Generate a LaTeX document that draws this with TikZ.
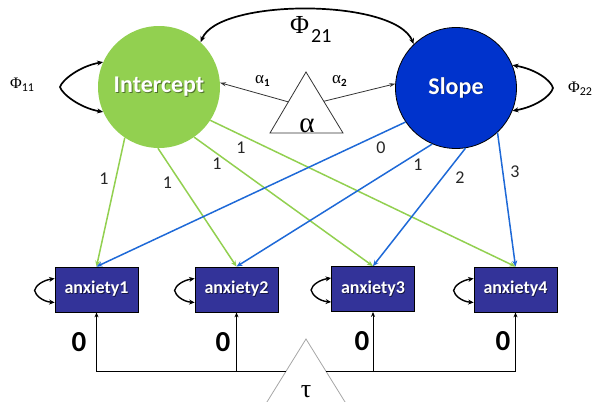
\documentclass[tikz,border=0pt]{standalone}
\usepackage{fontspec}
\setmainfont{Carlito}
\newfontfamily\grk{Liberation Serif}
\usetikzlibrary{arrows.meta,calc}

\definecolor{icptgreen}{RGB}{146,208,80}
\definecolor{slopeblue}{RGB}{0,51,204}
\definecolor{boxblue}{RGB}{51,51,153}
\definecolor{pathblue}{RGB}{30,105,215}
\definecolor{pathgreen}{RGB}{146,208,80}

% white label with a soft dark drop shadow
\newcommand\shadowed[2]{\makebox[0pt][l]{\hspace{0.9pt}\raisebox{-0.9pt}{\textcolor{#1}{#2}}}#2}

\begin{document}
\begin{tikzpicture}[x=1pt,y=-1pt,
  latent/.style={circle,minimum size=122pt,inner sep=0pt,text=white,
    font=\fontsize{24}{24}\selectfont\bfseries},
  manifest/.style={rectangle,draw=black,line width=0.8pt,fill=boxblue,
    minimum width=83pt,minimum height=45pt,inner sep=0pt,text=white,
    font=\fontsize{18}{18}\selectfont\bfseries},
  greenpath/.style={draw=pathgreen,line width=1.5pt,-{Stealth[length=6pt,width=5pt]}},
  bluepath/.style={draw=pathblue,line width=1.5pt,-{Stealth[length=6pt,width=5pt]}},
  varloop/.style={draw=black,line width=1.7pt,
    {Stealth[length=6pt,width=5pt]}-{Stealth[length=6pt,width=5pt]}},
  resloop/.style={draw=black,line width=1.4pt,
    {Stealth[length=5.5pt,width=5pt]}-{Stealth[length=5.5pt,width=5pt]}},
  meanpath/.style={draw=black!80,line width=0.8pt,-{Stealth[length=6pt,width=4pt]}},
  tauline/.style={draw=black,line width=0.9pt,-{Stealth[length=5pt,width=4pt]}},
  loadlab/.style={font=\fontsize{18}{18}\selectfont,text=black!85,inner sep=0pt},
  zerolab/.style={font=\fontsize{29}{29}\selectfont\bfseries,inner sep=0pt},
  txt/.style={inner sep=0pt,anchor=base west},
]
\useasboundingbox (0,0) rectangle (595,402);

% latent growth factors
\node[latent,fill=icptgreen] (I) at (159,87) {\shadowed{black!45!icptgreen}{Intercept}};
\node[latent,fill=slopeblue,draw=black,line width=0.8pt,minimum size=121pt] (S) at (456,88)
  {\shadowed{black!55!slopeblue}{Slope}};

% observed measures
\node[manifest] (a1) at (96.5,289.5) {\shadowed{black!60!boxblue}{anxiety1}};
\node[manifest] (a2) at (236.5,289.5) {\shadowed{black!60!boxblue}{anxiety2}};
\node[manifest] (a3) at (373,289) {\shadowed{black!60!boxblue}{anxiety3}};
\node[manifest] (a4) at (515.5,289.5) {\shadowed{black!60!boxblue}{anxiety4}};

% factor loadings
\draw[greenpath] (I.236) -- (a1.north);
\draw[greenpath] (I.269) -- (a2.north);
\draw[greenpath] (I.305) -- (a3.north);
\draw[greenpath] (I.327) -- (a4.north);
\draw[bluepath] (S.214) -- (a1.north);
\draw[bluepath] (S.247) -- (a2.north);
\draw[bluepath] (S.279) -- (a3.north);
\draw[bluepath] (S.313) -- (a4.north);

\node[loadlab] (li1) at (104,179) {1};
\node[loadlab] (li2) at (167.5,182.5) {1};
\node[loadlab] (li3) at (217,164) {1};
\node[loadlab] (li4) at (241,147.5) {1};
\node[loadlab] (ls1) at (381,147.5) {0};
\node[loadlab] (ls2) at (418,165) {1};
\node[loadlab] (ls3) at (460,178) {2};
\node[loadlab] (ls4) at (515,171.5) {3};

% factor means
\coordinate (alA) at (306,72);
\coordinate (alL) at (270,133);
\coordinate (alR) at (343,133);
\draw[black!80,line width=0.8pt] (alL) -- (alA) -- (alR) -- cycle;
\node[font=\grk\fontsize{29}{29}\selectfont,anchor=base,inner sep=0pt] (alab) at (307,132) {α};
\coordinate (alLs) at ($(alA)!0.49!(alL)$);
\coordinate (alRs) at ($(alA)!0.48!(alR)$);
\draw[meanpath] (alLs) -- (I.4);
\draw[meanpath] (alRs) -- (S.176);
\node[txt] (al1) at (255,83) {\fontsize{17}{17}\selectfont{\grk α}\raisebox{-3pt}{\fontsize{11}{11}\selectfont\bfseries 1}};
\node[txt] (al2) at (332,83) {\fontsize{17}{17}\selectfont{\grk α}\raisebox{-3pt}{\fontsize{11}{11}\selectfont\bfseries 2}};

% factor variances and covariance
\draw[varloop] (I.47) .. controls (218,-2) and (395,-2) .. (S.134);
\draw[varloop] (I.156) .. controls (80,66) and (62,80) .. (60,87)
  .. controls (62,94) and (80,108) .. (I.204);
\draw[varloop] (S.22) .. controls (535,69) and (551,80) .. (553,88)
  .. controls (551,96) and (535,107) .. (S.338);
\node[txt] (p21) at (290,33) {\fontsize{26}{26}\selectfont{\grk Φ}\hspace{2pt}\raisebox{-9pt}{\fontsize{20}{20}\selectfont 21}};
\node[txt] (p11) at (10,88) {\fontsize{16}{16}\selectfont{\grk Φ}\raisebox{-3.5pt}{\fontsize{12}{12}\selectfont 11}};
\node[txt] (p22) at (568,92) {\fontsize{16}{16}\selectfont{\grk Φ}\raisebox{-3.5pt}{\fontsize{12}{12}\selectfont 22}};

% residual variances
\foreach \b in {a1,a2,a3,a4}
  \draw[resloop] ($(\b.west)+(0,-11)$) .. controls ($(\b.west)+(-12,-9)$) and ($(\b.west)+(-19,-4)$)
    .. ($(\b.west)+(-20,1)$) .. controls ($(\b.west)+(-19,6)$) and ($(\b.west)+(-12,12)$)
    .. ($(\b.west)+(0,13)$);

% measurement intercepts fixed at zero
\coordinate (tA) at (306,339);
\coordinate (tLb) at (262,410);
\coordinate (tRb) at (350,410);
\draw[black!35,line width=0.8pt] (tLb) -- (tA) -- (tRb);
\node[font=\grk\fontsize{26}{26}\selectfont,anchor=base,inner sep=0pt] (tlab) at (306,397) {τ};
\coordinate (tL) at ($(tA)!0.4507!(tLb)$);
\coordinate (tR) at ($(tA)!0.4507!(tRb)$);
\draw[tauline] (tL) -| (a1.south);
\draw[tauline] (tL) -| (a2.south);
\draw[tauline] (tR) -| (a3.south);
\draw[tauline] (tR) -| (a4.south);
\node[zerolab] (z1) at (79,342) {0};
\node[zerolab] (z2) at (223,342) {0};
\node[zerolab] (z3) at (362,341) {0};
\node[zerolab] (z4) at (503,341) {0};
\end{tikzpicture}
\end{document}
